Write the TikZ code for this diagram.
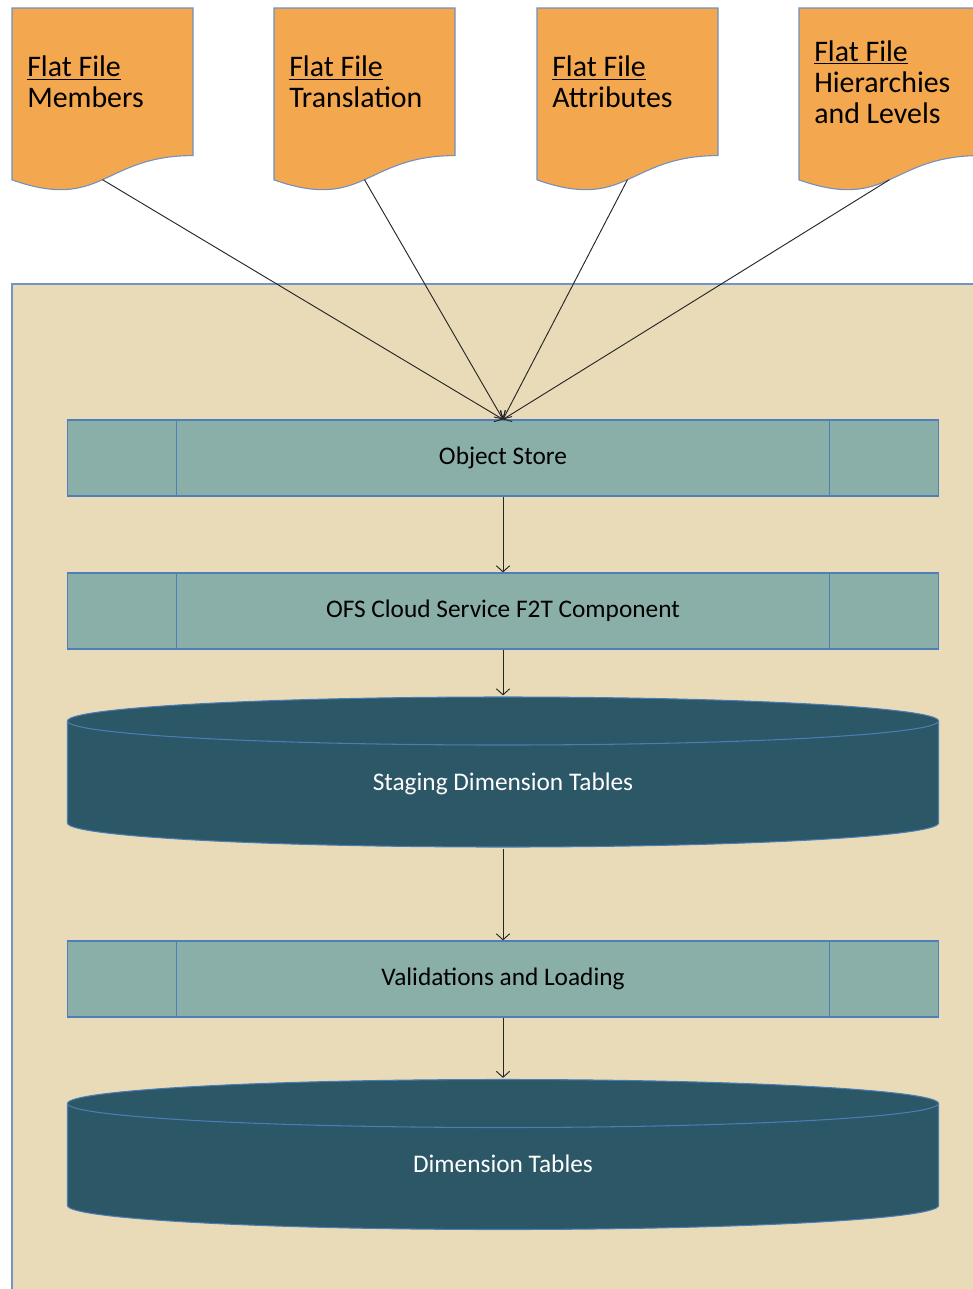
\documentclass[tikz,border=0pt]{standalone}
\usepackage{fontspec}
\setmainfont{Carlito}
\usetikzlibrary{arrows.meta,calc}
\definecolor{docfill}{HTML}{F3A84F}
\definecolor{docline}{HTML}{7090C0}
\definecolor{panelfill}{HTML}{E9DBB7}
\definecolor{panelline}{HTML}{6F96C8}
\definecolor{procfill}{HTML}{8AAFA8}
\definecolor{procline}{HTML}{4F7FBA}
\definecolor{cylfill}{HTML}{2C5767}
\definecolor{cylline}{HTML}{4A7DB5}
\tikzset{
  doc/.style={draw=docline,fill=docfill,line width=0.8pt},
  doctext/.style={anchor=west,align=left,inner sep=0pt,font=\fontsize{22.4}{23.25}\selectfont},
  proc/.style={draw=procline,fill=procfill,line width=0.9pt,minimum width=653.25pt,minimum height=57pt,
    font=\fontsize{19}{22}\selectfont,
    path picture={
      \draw[procline,line width=0.9pt] ([xshift=81.75pt]path picture bounding box.north west) -- ([xshift=81.75pt]path picture bounding box.south west)
        ([xshift=-81.75pt]path picture bounding box.north east) -- ([xshift=-81.75pt]path picture bounding box.south east);
    }},
  cyl/.style={minimum width=655.25pt,minimum height=114.5pt,text=white,font=\fontsize{19}{22}\selectfont,
    text height=31pt,text depth=4pt,
    path picture={
      \filldraw[fill=cylfill,draw=cylline,line width=0.8pt] let \p1=([shift={(1pt,-1pt)}]path picture bounding box.north west),
        \p2=([shift={(-1pt,1pt)}]path picture bounding box.south east) in
        (\x1,\y1-18pt) -- (\x1,\y2+18pt) arc[start angle=180,end angle=360,x radius={(\x2-\x1)/2},y radius=18pt]
        -- (\x2,\y1-18pt) arc[start angle=0,end angle=180,x radius={(\x2-\x1)/2},y radius=18pt] -- cycle;
      \draw[cylline,line width=0.8pt] let \p1=([shift={(1pt,-1pt)}]path picture bounding box.north west),
        \p2=([shift={(-1pt,1pt)}]path picture bounding box.south east) in
        (\x1,\y1-18pt) arc[start angle=180,end angle=360,x radius={(\x2-\x1)/2},y radius=18pt];
    }},
  link/.style={-{Straight Barb[length=4.5pt,width=10pt]},line width=0.7pt,black!85}
}
\begin{document}
\begin{tikzpicture}[x=0.75pt,y=-0.75pt]
\useasboundingbox (0,0) rectangle (973,1289);
% background panel
\draw[fill=panelfill,draw=panelline,line width=1pt] (12,284) rectangle (990,1300);
% flat files
\foreach \x/\n/\t in {12/mem/Members,274/tra/Translation,537/att/Attributes,799/hie/{Hierarchies\\and Levels}}{
  \draw[doc] (\x,8) -- (\x+181,8) -- (\x+181,155.6) .. controls (\x+90.5,155.6) and (\x+90.5,211.8) .. (\x,179.9) -- cycle;
  \node[doctext] (\n) at (\x+15,82) {\underline{Flat File}\\\t};
  \coordinate (\n-out) at (\x+90.5,179.7);
}
% flow
\node[proc] (os) at (503,458) {Object Store};
\node[proc] (f2t) at (503,611) {OFS Cloud Service F2T Component};
\node[cyl] (stg) at (503,772) {Staging Dimension Tables};
\node[proc] (val) at (503,979) {Validations and Loading};
\node[cyl] (dim) at (503,1154.5) {Dimension Tables};
\foreach \n in {mem,tra,att,hie}
  \draw[link] (\n-out) -- (os.north);
\draw[link] (os) -- (f2t);
\draw[link] (f2t) -- (stg);
\draw[link] (stg) -- (val);
\draw[link] (val) -- (dim);
\end{tikzpicture}
\end{document}
